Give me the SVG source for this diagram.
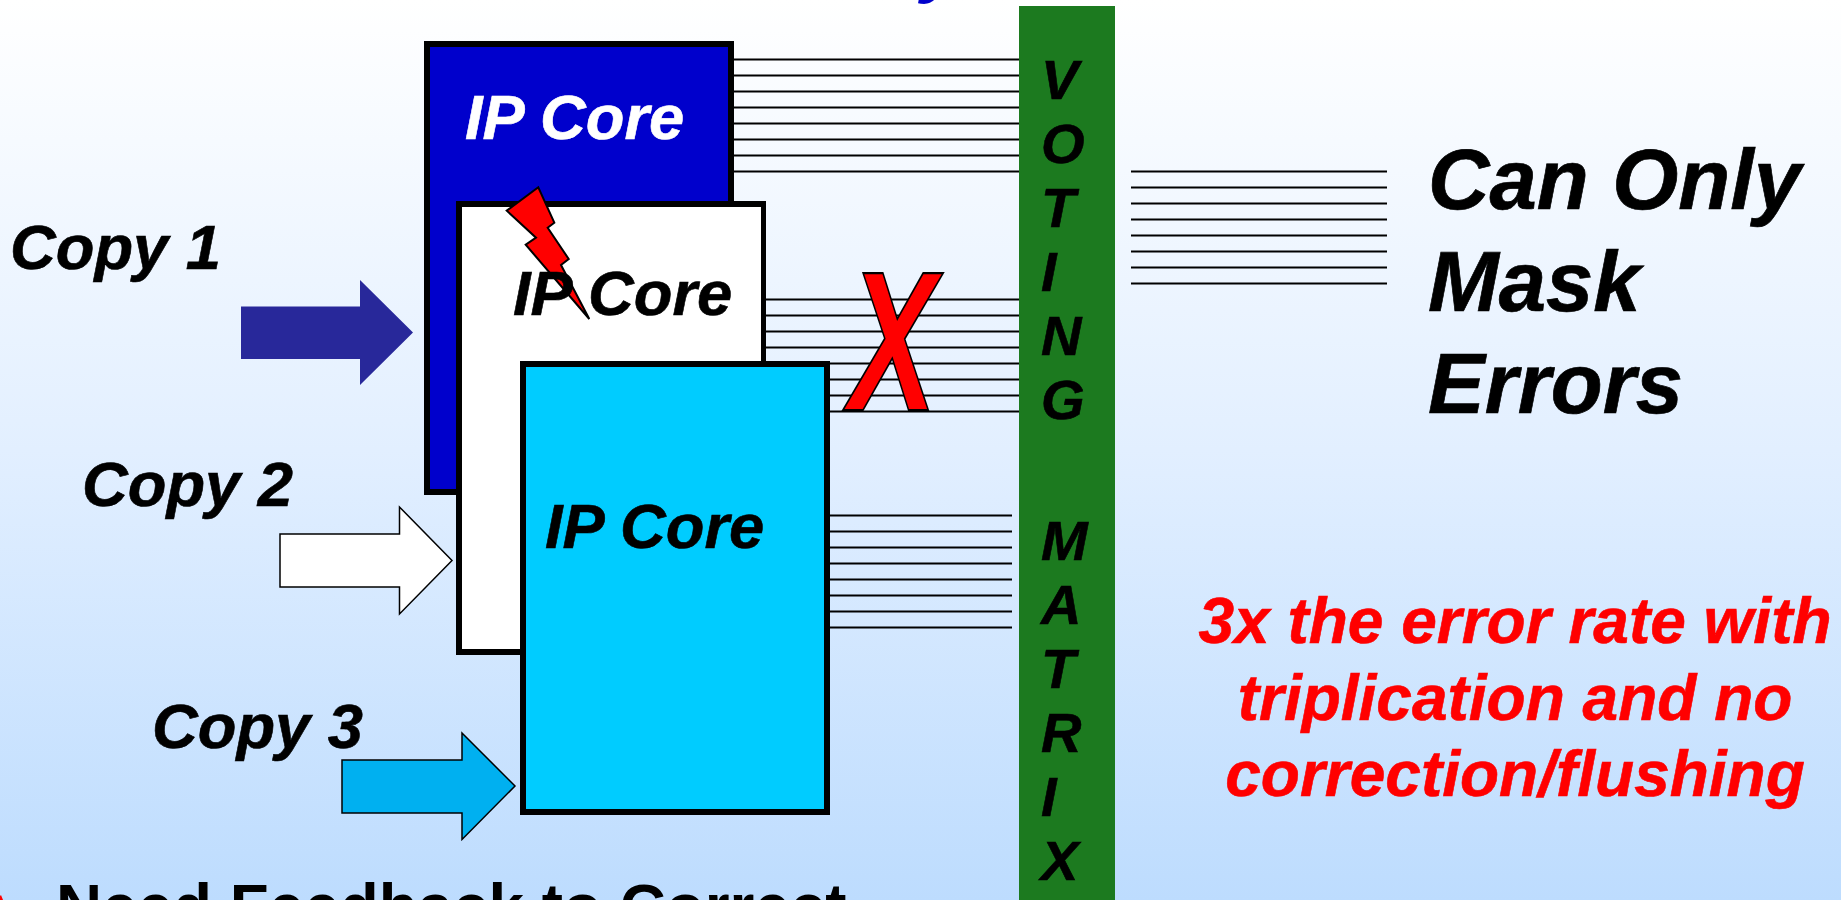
<svg xmlns="http://www.w3.org/2000/svg" width="1841" height="900" viewBox="0 0 1841 900">
<style>
text{font-family:"Liberation Sans",Arial,sans-serif;font-weight:700;font-style:italic}
.l{font-size:63.3px;fill:#000;stroke:#000;stroke-width:.6px}
.v{font-size:56px;fill:#000;stroke:#000;stroke-width:.6px}
.b{font-size:85px;fill:#000;stroke:#000;stroke-width:.7px}
.r{font-size:64px;fill:#f00;stroke:#f00;stroke-width:.6px;text-anchor:middle}
.w{stroke:#000;stroke-width:1.9;fill:none}
.a{stroke:#000;stroke-width:1.5}
</style>
<defs>
<linearGradient id="bg" x1="0" y1="0" x2="0" y2="1">
<stop offset="0" stop-color="#ffffff"/><stop offset="0.5" stop-color="#e2efff"/><stop offset="1" stop-color="#bddcfe"/>
</linearGradient>
</defs>
<rect width="1841" height="900" fill="url(#bg)"/>
<text id="title-fragment" x="921" y="-11.5" style="font-size:72px;fill:#0000cc">y</text>
<g id="connectors">
<path class="w" d="M734 59.5H1019M734 75.5H1019M734 91.5H1019M734 107.5H1019M734 123.5H1019M734 139.5H1019M734 155.5H1019M734 171.5H1019"/>
<path class="w" d="M766 299.5H1019M766 315.5H1019M766 331.5H1019M766 347.5H1019M766 363.5H1019M766 379.5H1019M766 395.5H1019M766 411.5H1019"/>
<path class="w" d="M830 515.5H1012M830 531.5H1012M830 547.5H1012M830 563.5H1012M830 579.5H1012M830 595.5H1012M830 611.5H1012M830 627.5H1012"/>
<path class="w" d="M1131 171.5H1387M1131 187.5H1387M1131 203.5H1387M1131 219.5H1387M1131 235.5H1387M1131 251.5H1387M1131 267.5H1387M1131 283.5H1387"/>
</g>
<g id="copy1-arrow"><polygon points="241,306.5 360,306.5 360,280 413,332.5 360,385 360,359 241,359" fill="#28289a"/></g>
<g id="copy2-arrow"><polygon class="a" points="280,534 399.5,534 399.5,507 452,560.5 399.5,614 399.5,587 280,587" fill="#fff"/></g>
<g id="copy3-arrow"><polygon class="a" points="342,760 462,760 462,733 515,786 462,839.5 462,813 342,813" fill="#00b0f0"/></g>
<g id="core1"><rect x="424" y="41" width="310" height="454" fill="#000"/><rect x="430" y="47" width="298" height="442" fill="#0000cc"/>
<text class="l" x="465" y="139" style="fill:#fff;stroke:#fff">IP Core</text></g>
<g id="core2"><rect x="456" y="201" width="310" height="454" fill="#000"/><rect x="462" y="207" width="299" height="442" fill="#fff"/></g>
<g id="bolt"><polygon points="538.3,187.3 554.3,222.7 547.7,227.7 568.7,259 561,265 589.3,319 525.7,244.7 536,237.7 506.7,210.7" fill="#f00" stroke="#000" stroke-width="2"/></g>
<text class="l" x="513" y="315">IP Core</text>
<g id="core3"><rect x="520" y="361" width="310" height="454" fill="#000"/><rect x="526" y="367" width="298" height="442" fill="#0cf"/>
<text class="l" x="545" y="548">IP Core</text></g>
<g id="voter"><rect x="1019" y="6" width="96" height="894" fill="#1c7a1f"/>
<text class="v" x="1041" y="99">V</text><text class="v" x="1041" y="163">O</text><text class="v" x="1041" y="227">T</text><text class="v" x="1041" y="291">I</text><text class="v" x="1041" y="355">N</text><text class="v" x="1041" y="419">G</text>
<text class="v" x="1041" y="560">M</text><text class="v" x="1041" y="624">A</text><text class="v" x="1041" y="688">T</text><text class="v" x="1041" y="752">R</text><text class="v" x="1041" y="816">I</text><text class="v" x="1041" y="880">X</text></g>
<text transform="translate(849,410) scale(0.9,1.36)" style="font-size:146px;fill:#f00;stroke:#000;stroke-width:1.6px">X</text>
<text class="l" x="10" y="269">Copy 1</text>
<text class="l" x="82" y="506">Copy 2</text>
<text class="l" x="152" y="748">Copy 3</text>
<text class="b" x="1428" y="209">Can Only</text>
<text class="b" x="1428" y="311">Mask</text>
<text class="b" x="1428" y="413">Errors</text>
<text class="r" x="1515" y="643">3x the error rate with</text>
<text class="r" x="1515" y="720">triplication and no</text>
<text class="r" x="1515" y="796">correction/flushing</text>
<text x="56" y="928" style="font-size:63.8px;font-style:normal;fill:#000">Need Feedback to Correct</text>
<polygon id="bullet" points="0,900 0,896 1,895 3,900" fill="#f00"/>
</svg>
